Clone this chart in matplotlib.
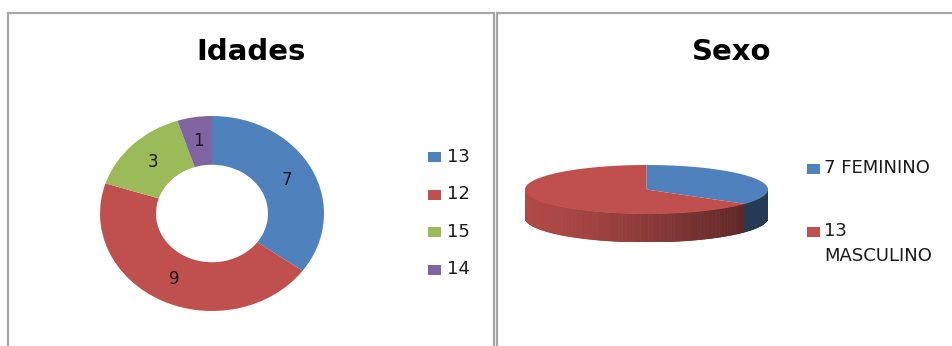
import numpy as np
import matplotlib.pyplot as plt
from matplotlib.patches import Rectangle, Polygon
from matplotlib.collections import PolyCollection
from matplotlib.colors import to_rgb

# Idades (donut)
idade_labels = ['13', '12', '15', '14']
idade_values = [7, 9, 3, 1]
idade_colors = ['#4F81BD', '#C0504D', '#9BBB59', '#8064A2']

# Sexo (3D pie)
sexo_labels = ['7 FEMININO', '13\nMASCULINO']
sexo_values = [7, 13]
sexo_colors = ['#4F81BD', '#C0504D']

W, H = 953, 346


def fx(px):
    return px / W


def fy(py):
    return 1 - py / H


def box(x0, y0, x1, y1):
    # pixel box (top-left origin) -> figure rect
    return [fx(x0), fy(y1), (x1 - x0) / W, (y1 - y0) / H]


fig = plt.figure(figsize=(W / 100, H / 100), dpi=100)
fig.patch.set_facecolor('white')

# panel borders
border = '#a6a6a6'
fig.patches.append(Rectangle((fx(8), fy(360)), fx(494) - fx(8), fy(13) - fy(360),
                             transform=fig.transFigure, fill=False,
                             edgecolor=border, lw=1.6))
fig.patches.append(Rectangle((fx(497), fy(360)), fx(980) - fx(497), fy(13) - fy(360),
                             transform=fig.transFigure, fill=False,
                             edgecolor=border, lw=1.6))

# titles
fig.text(fx(251), fy(52), 'Idades', ha='center', va='center',
         fontsize=21, fontweight='bold', color='black')
fig.text(fx(732), fy(52), 'Sexo', ha='center', va='center',
         fontsize=21, fontweight='bold', color='black')

# ---- donut ----
ax1 = fig.add_axes(box(100, 116, 324, 311))
total = sum(idade_values)
wedges, texts, autotexts = ax1.pie(
    idade_values, colors=idade_colors, startangle=90, counterclock=False,
    radius=1, wedgeprops=dict(width=0.5, edgecolor='none'),
    autopct=lambda p: '%d' % round(p * total / 100), pctdistance=0.75,
    textprops=dict(fontsize=12, color='#1a1a1a'))
ax1.set_aspect('auto')
ax1.set_xlim(-1, 1)
ax1.set_ylim(-1, 1)
ax1.axis('off')

# legend for donut
for i, (lab, col) in enumerate(zip(idade_labels, idade_colors)):
    yc = 157 + i * 37.5
    fig.patches.append(Rectangle((fx(428), fy(yc + 5)), fx(441) - fx(428), 10 / H,
                                 transform=fig.transFigure, facecolor=col,
                                 edgecolor='none'))
    fig.text(fx(447), fy(yc), lab, ha='left', va='center', fontsize=13,
             color='#1a1a1a')

# ---- 3D pie ----
rx_px, ry_px, dep_px = 121.5, 24.5, 28
sy = ry_px / rx_px
dep = dep_px / rx_px
ax2 = fig.add_axes(box(525, 165, 768, 165 + ry_px * 2 + dep_px))
ax2.set_xlim(-1, 1)
ax2.set_ylim(-(sy + dep), sy)
ax2.axis('off')

stotal = sum(sexo_values)
angles = [90.0]
for v in sexo_values:
    angles.append(angles[-1] - 360.0 * v / stotal)


def slice_of(theta_deg):
    # which slice an angle (deg) belongs to
    t = theta_deg
    for i in range(len(sexo_values)):
        a0, a1 = angles[i], angles[i + 1]
        tt = t
        while tt > a0:
            tt -= 360
        while tt <= a0 - 360:
            tt += 360
        if a1 <= tt <= a0:
            return i
    return 0


# side strips (front half of ellipse)
n = 240
ts = np.linspace(180, 360, n + 1)
polys, cols = [], []
for k in range(n):
    t0, t1 = np.radians(ts[k]), np.radians(ts[k + 1])
    x0, x1 = np.cos(t0), np.cos(t1)
    y0, y1 = sy * np.sin(t0), sy * np.sin(t1)
    polys.append([(x0, y0), (x1, y1), (x1, y1 - dep), (x0, y0 - dep)])
    idx = slice_of((ts[k] + ts[k + 1]) / 2)
    xm = (x0 + x1) / 2
    shade = 0.92 - 0.48 * ((xm + 1) / 2) ** 1.3
    if idx == 0:
        shade = 0.45
    cols.append(tuple(np.array(to_rgb(sexo_colors[idx])) * shade))
pc = PolyCollection(polys, facecolors=cols, edgecolors=cols, linewidths=0.6)
ax2.add_collection(pc)

# top face
for i, col in enumerate(sexo_colors):
    th = np.radians(np.linspace(angles[i], angles[i + 1], 120))
    pts = [(0, 0)] + list(zip(np.cos(th), sy * np.sin(th)))
    ax2.add_patch(Polygon(pts, closed=True, facecolor=col, edgecolor='none'))

# legend for 3D pie
leg_y = [169, 232]
for lab, col, yc in zip(sexo_labels, sexo_colors, leg_y):
    fig.patches.append(Rectangle((fx(807), fy(yc + 5)), fx(820) - fx(807), 10 / H,
                                 transform=fig.transFigure, facecolor=col,
                                 edgecolor='none'))
    fig.text(fx(824), fy(yc - 10), lab, ha='left', va='top', fontsize=13,
             color='#1a1a1a', linespacing=1.5)

fig.savefig('out.png', dpi=100)
